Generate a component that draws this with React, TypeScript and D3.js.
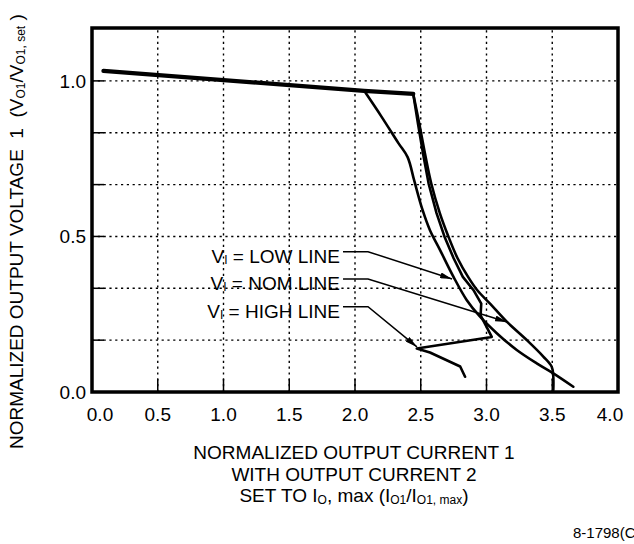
import React from "react";
import * as d3 from "d3";

// shared flat part of the three curves (current limit not reached yet)
const sharedFlat: [number, number][] = [
  [0.087, 1.032],
  [2.07, 0.968],
  [2.443, 0.958],
];

const lowLine: [number, number][] = [
  [2.07, 0.968], [2.2, 0.886], [2.33, 0.8], [2.4, 0.755], [2.45, 0.68],
  [2.51, 0.59], [2.57, 0.52], [2.646, 0.457], [2.748, 0.371], [2.849, 0.296],
  [2.951, 0.242], [3.078, 0.189], [3.23, 0.135], [3.382, 0.092], [3.508, 0.06],
  [3.66, 0.017],
];

const nomLine: [number, number][] = [
  [2.443, 0.958], [2.49, 0.86], [2.535, 0.76], [2.58, 0.67], [2.645, 0.575],
  [2.71, 0.5], [2.78, 0.43], [2.86, 0.37], [2.93, 0.327], [3.027, 0.284],
  [3.154, 0.226], [3.306, 0.167], [3.432, 0.114], [3.496, 0.081], [3.508, 0.049],
  [3.508, 0.006],
];

const highLine: [number, number][] = [
  [2.443, 0.958], [2.48, 0.86], [2.52, 0.76], [2.56, 0.67], [2.62, 0.575],
  [2.68, 0.5], [2.75, 0.43], [2.82, 0.37], [2.9, 0.328], [2.96, 0.284],
  [2.955, 0.246], [3.04, 0.177], [2.47, 0.14], [2.57, 0.127], [2.8, 0.082],
  [2.837, 0.049],
];

const xTickValues = [0, 0.5, 1, 1.5, 2, 2.5, 3, 3.5, 4];
const xTickLabels = ["0.0", "0.5", "1.0", "1.5", "2.0", "2.5", "3.0", "3.5", "4.0"];
const yGridValues = [1 / 6, 1 / 3, 0.5, 2 / 3, 5 / 6, 1];
const yTickValues = [0, 0.5, 1];
const yTickLabels = ["0.0", "0.5", "1.0"];

// callouts: leader level and arrow tip in data units
const calloutNames = ["LOW LINE", "NOM LINE", "HIGH LINE"];
const calloutLevels = [0.451, 0.363, 0.274];
const calloutTips: [number, number][] = [
  [2.738, 0.363],
  [3.156, 0.225],
  [2.471, 0.145],
];
const leaderStart = 1.909;
const leaderElbow = 2.099;

const FONT = "'Liberation Sans', Arial, Helvetica, sans-serif";

const App = () => {
  const width = 634,
    height = 544;
  const x = d3.scaleLinear().domain([0, 4]).range([92, 618]);
  const y = d3.scaleLinear().domain([0, 1.17]).range([392, 28]);

  const smooth = d3
    .line<[number, number]>()
    .x((d) => x(d[0]))
    .y((d) => y(d[1]))
    .curve(d3.curveCatmullRom.alpha(0.5));
  const straight = d3
    .line<[number, number]>()
    .x((d) => x(d[0]))
    .y((d) => y(d[1]));

  const [x0, x1] = x.range();
  const [y0, y1] = y.range();

  return (
    <svg
      width={width}
      height={height}
      style={{ position: "absolute", left: 0, top: 0, background: "#fff" }}
      fontFamily={FONT}
    >
      <defs>
        <marker
          id="arrow"
          viewBox="0 0 12 6"
          refX="12"
          refY="3"
          markerWidth="12"
          markerHeight="6"
          markerUnits="userSpaceOnUse"
          orient="auto"
        >
          <path d="M0,0 L12,3 L0,6 Z" fill="#000" />
        </marker>
      </defs>

      {/* dotted grid */}
      <g stroke="#000" strokeWidth={1.4} strokeDasharray="2.2 3.6">
        {xTickValues.slice(1, -1).map((v) => (
          <line key={"gx" + v} x1={x(v)} x2={x(v)} y1={y0} y2={y1} />
        ))}
        {yGridValues.map((v) => (
          <line key={"gy" + v} x1={x0} x2={x1} y1={y(v)} y2={y(v)} />
        ))}
      </g>

      {/* inward solid ticks */}
      <g stroke="#000" strokeWidth={1.5}>
        {xTickValues.slice(1, -1).map((v) => (
          <line key={"tx" + v} x1={x(v)} x2={x(v)} y1={y0} y2={y0 - 13} />
        ))}
        {yGridValues.map((v) => (
          <line key={"ty" + v} x1={x0} x2={x0 + 12} y1={y(v)} y2={y(v)} />
        ))}
      </g>

      {/* curves */}
      <g fill="none" stroke="#000" strokeLinejoin="round" strokeLinecap="round">
        <path d={straight(sharedFlat) || ""} strokeWidth={4.2} />
        <path d={smooth(lowLine) || ""} strokeWidth={2.6} />
        <path d={smooth(nomLine) || ""} strokeWidth={2.6} />
        <path d={straight(highLine) || ""} strokeWidth={2.6} />
      </g>

      {/* frame */}
      <rect
        x={x0}
        y={y1}
        width={x1 - x0}
        height={y0 - y1}
        fill="none"
        stroke="#000"
        strokeWidth={3.5}
      />

      {/* x tick labels */}
      <g fontSize={19} textAnchor="middle" fill="#000">
        {xTickValues.map((v, i) => (
          <text
            key={"lx" + v}
            x={x(v) + (i === 0 ? 8 : i === xTickValues.length - 1 ? -8 : 0)}
            y={421}
          >
            {xTickLabels[i]}
          </text>
        ))}
      </g>

      {/* y tick labels */}
      <g fontSize={19} textAnchor="end" fill="#000">
        {yTickValues.map((v, i) => (
          <text key={"ly" + v} x={x0 - 6} y={y(v) + 7}>
            {yTickLabels[i]}
          </text>
        ))}
      </g>

      {/* callouts */}
      <g fill="#000" fontSize={19}>
        {calloutNames.map((name, i) => {
          const ly = y(calloutLevels[i]);
          const tip = calloutTips[i];
          return (
            <g key={name}>
              <polyline
                points={`${x(leaderStart)},${ly} ${x(leaderElbow)},${ly} ${x(tip[0])},${y(tip[1])}`}
                fill="none"
                stroke="#000"
                strokeWidth={1.5}
                markerEnd="url(#arrow)"
              />
              <text x={x(leaderStart) - 3} y={ly + 11} textAnchor="end">
                V
                <tspan fontSize={12} dy={1}>
                  I
                </tspan>
                <tspan dy={-1}> = {name}</tspan>
              </text>
            </g>
          );
        })}
      </g>

      {/* y title */}
      <text
        transform="translate(23,449) rotate(-90)"
        fontSize={19}
        fill="#000"
        style={{ whiteSpace: "pre" }}
      >
        {"NORMALIZED OUTPUT VOLTAGE  1  (V"}
        <tspan fontSize={12} dy={2}>
          O1
        </tspan>
        <tspan dy={-2}>/V</tspan>
        <tspan fontSize={12} dy={2}>
          O1, set
        </tspan>
        <tspan dy={-2}> )</tspan>
      </text>

      {/* x title */}
      <g fontSize={19} textAnchor="middle" fill="#000">
        <text x={354} y={459}>
          NORMALIZED OUTPUT CURRENT 1
        </text>
        <text x={354} y={480.5}>
          WITH OUTPUT CURRENT 2
        </text>
        <text x={354} y={502}>
          SET TO I
          <tspan fontSize={12} dy={2}>
            O
          </tspan>
          <tspan dy={-2}>, max (I</tspan>
          <tspan fontSize={12} dy={2}>
            O1
          </tspan>
          <tspan dy={-2}>/I</tspan>
          <tspan fontSize={12} dy={2}>
            O1, max
          </tspan>
          <tspan dy={-2}>)</tspan>
        </text>
      </g>

      <text x={573} y={538} fontSize={15} fill="#000">
        8-1798(C)
      </text>
    </svg>
  );
};

export default App;
